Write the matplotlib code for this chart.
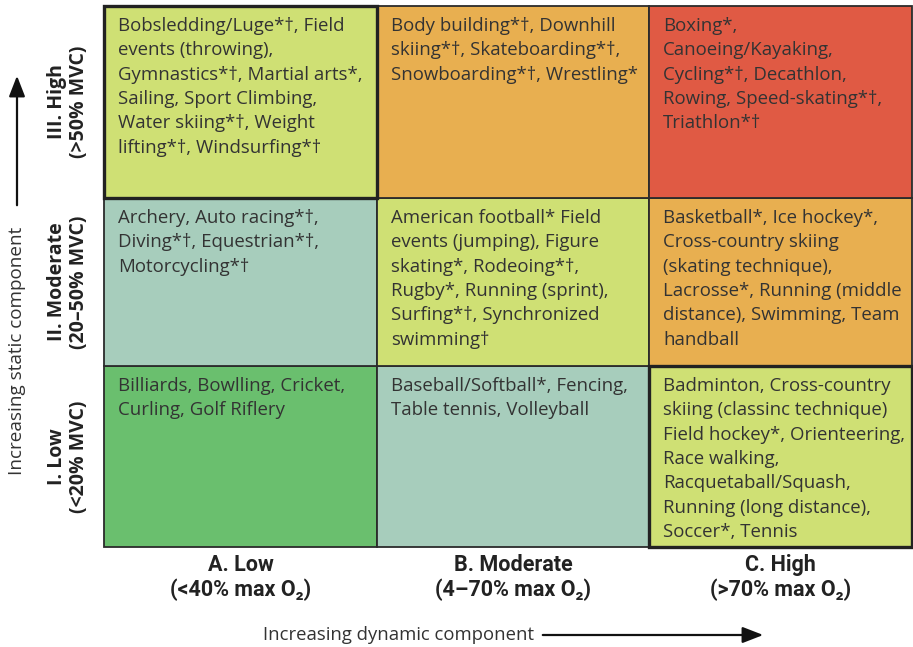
import matplotlib
matplotlib.use("Agg")
import matplotlib.pyplot as plt
from matplotlib.patches import Rectangle, FancyArrowPatch

# ---------------- data ----------------
static_labels = ["I. Low\n(<20% MVC)", "II. Moderate\n(20–50% MVC)", "III. High\n(>50% MVC)"]
dynamic_labels = ["A. Low\n(<40% max O₂)", "B. Moderate\n(4–70% max O₂)", "C. High\n(>70% max O₂)"]

# sports[row][col], row 0 = low static, col 0 = low dynamic
sports_low = [
    "Billiards, Bowlling, Cricket,\nCurling, Golf Riflery",
    "Baseball/Softball*, Fencing,\nTable tennis, Volleyball",
    "Badminton, Cross-country\nskiing (classinc technique)\nField hockey*, Orienteering,\nRace walking,\nRacquetaball/Squash,\nRunning (long distance),\nSoccer*, Tennis",
]
sports_moderate = [
    "Archery, Auto racing*†,\nDiving*†, Equestrian*†,\nMotorcycling*†",
    "American football* Field\nevents (jumping), Figure\nskating*, Rodeoing*†,\nRugby*, Running (sprint),\nSurfing*†, Synchronized\nswimming†",
    "Basketball*, Ice hockey*,\nCross-country skiing\n(skating technique),\nLacrosse*, Running (middle\ndistance), Swimming, Team\nhandball",
]
sports_high = [
    "Bobsledding/Luge*†, Field\nevents (throwing),\nGymnastics*†, Martial arts*,\nSailing, Sport Climbing,\nWater skiing*†, Weight\nlifting*†, Windsurfing*†",
    "Body building*†, Downhill\nskiing*†, Skateboarding*†,\nSnowboarding*†, Wrestling*",
    "Boxing*,\nCanoeing/Kayaking,\nCycling*†, Decathlon,\nRowing, Speed-skating*†,\nTriathlon*†",
]
sports = [sports_low, sports_moderate, sports_high]

# combined cardiovascular demand class per cell (row, col)
demand_class = [
    [0, 1, 2],
    [1, 2, 3],
    [2, 3, 4],
]
class_colors = ["#6ABF6E", "#A7CDBC", "#CFE074", "#E8AF50", "#E05A44"]

# ---------------- layout ----------------
W, H = 913, 647
col_widths = [273, 272, 263]
row_heights = [181, 168, 192]   # low, moderate, high (bottom to top)
grid_left, grid_top = 104, 6

fig = plt.figure(figsize=(W / 100, H / 100), dpi=100)
gw, gh = sum(col_widths), sum(row_heights)
ax = fig.add_axes([grid_left / W, 1 - (grid_top + gh) / H, gw / W, gh / H])
ax.set_xlim(0, gw)
ax.set_ylim(0, gh)
ax.axis("off")

body_font = ["Open Sans", "DejaVu Sans"]
text_color = "#333333"

x_edges = [sum(col_widths[:i]) for i in range(4)]
y_edges = [sum(row_heights[:i]) for i in range(4)]

for r in range(3):
    for c in range(3):
        x0, y0 = x_edges[c], y_edges[r]
        w, h = col_widths[c], row_heights[r]
        ax.add_patch(Rectangle((x0, y0), w, h,
                               facecolor=class_colors[demand_class[r][c]],
                               edgecolor="#2b2b2b", lw=1.3, clip_on=False))
        ax.annotate(sports[r][c], xy=(x0, y0 + h), xytext=(10.0, -8.0),
                    textcoords="offset points", ha="left", va="top",
                    fontsize=13.4, family=body_font, color=text_color,
                    linespacing=1.45)

# thicker outlines on highlighted cells
for (r, c) in [(2, 0), (0, 2)]:
    ax.add_patch(Rectangle((x_edges[c], y_edges[r]), col_widths[c], row_heights[r],
                           facecolor="none", edgecolor="#222222", lw=2.4,
                           clip_on=False, zorder=5))

# row labels (static)
for r in range(3):
    yc = grid_top + gh - (y_edges[r] + row_heights[r] / 2)
    fig.text(68 / W, 1 - yc / H, static_labels[r], rotation=90,
             ha="center", va="center", multialignment="center",
             fontsize=14, fontweight="bold", family=body_font, color="#222222",
             linespacing=1.15)

# column labels (dynamic)
narrow = ["Roboto", "DejaVu Sans"]
for c in range(3):
    xc = grid_left + x_edges[c] + col_widths[c] / 2
    fig.text(xc / W, 1 - 578 / H, dynamic_labels[c], ha="center", va="center",
             multialignment="center", fontsize=15.5, fontweight="bold",
             family=narrow, color="#222222", linespacing=1.14)

# axis captions with arrows
fig.text(17 / W, 1 - 351 / H, "Increasing static component", rotation=90,
         ha="center", va="center", fontsize=13.6, family=body_font,
         color=text_color)
fig.add_artist(FancyArrowPatch(
    (17 / W, 1 - 208 / H), (17 / W, 1 - 73 / H), transform=fig.transFigure,
    arrowstyle="-|>,head_length=0.9,head_width=0.35", mutation_scale=14,
    color="#111111", lw=1.6))

fig.text(398 / W, 1 - 635 / H, "Increasing dynamic component",
         ha="center", va="center", fontsize=13.3, family=body_font,
         color=text_color)
fig.add_artist(FancyArrowPatch(
    (540 / W, 1 - 635 / H), (766 / W, 1 - 635 / H), transform=fig.transFigure,
    arrowstyle="-|>,head_length=0.9,head_width=0.35", mutation_scale=14,
    color="#111111", lw=1.6))

fig.savefig("out.png", dpi=100, facecolor="white")
